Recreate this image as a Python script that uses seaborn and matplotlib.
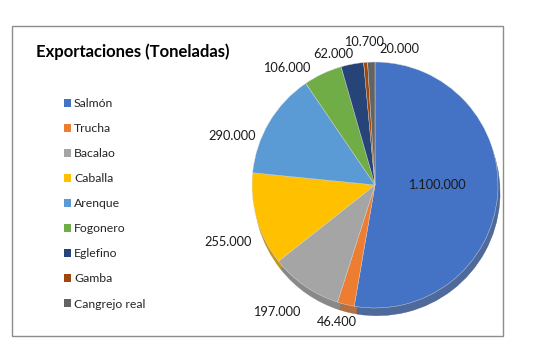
import matplotlib
matplotlib.use("Agg")
import matplotlib.pyplot as plt
from matplotlib.patches import Patch, Rectangle
import numpy as np
import seaborn as sns

# Datos
especies = ['Salmón', 'Trucha', 'Bacalao', 'Caballa', 'Arenque',
            'Fogonero', 'Eglefino', 'Gamba', 'Cangrejo real']
toneladas = [1100000, 46400, 197000, 255000, 290000, 106000, 62000, 10700, 20000]
etiquetas = ['1.100.000', '46.400', '197.000', '255.000', '290.000',
             '106.000', '62.000', '10.700', '20.000']
colores = ['#4472C4', '#ED7D31', '#A5A5A5', '#FFC000', '#5B9BD5',
           '#70AD47', '#264478', '#9E480E', '#636363']

# ajustes de posicion de etiquetas (radio relativo, giro en grados)
lab_r = [0.50, 1.155, 1.31, 1.28, 1.23, 1.19, 1.12, 1.17, 1.12]
lab_rot = [5, -2, -3, 5, 12, 12, 7, 0, -12]

sns.set_theme(style='white')
plt.rcParams['font.family'] = ['Lato', 'DejaVu Sans']

fig = plt.figure(figsize=(5.57, 3.57), dpi=100)
fig.patch.set_facecolor('white')

# marco del grafico
fig.patches.append(Rectangle((12 / 557, 1 - 336 / 357), 491 / 557, 310 / 357,
                             transform=fig.transFigure, fill=False,
                             edgecolor='#8c8c8c', linewidth=1.0))

r_px = 123
cx, cy = 375, 185
half = 1.4 * r_px
ax = fig.add_axes([(cx - half) / 557, (357 - cy - half) / 357,
                   2 * half / 557, 2 * half / 357])

wedges, _ = ax.pie(toneladas, colors=colores, startangle=90, counterclock=False,
                   radius=1.0, wedgeprops=dict(linewidth=0.3, edgecolor='#dddddd'),
                   shadow=dict(ox=0.012, oy=-0.045, shade=0.3, alpha=0.85))
ax.set_xlim(-1.4, 1.4)
ax.set_ylim(-1.4, 1.4)
ax.axis('off')

for w, txt, rr, rot in zip(wedges, etiquetas, lab_r, lab_rot):
    ang = np.deg2rad((w.theta1 + w.theta2) / 2 + rot)
    ax.text(rr * np.cos(ang), rr * np.sin(ang), txt, ha='center', va='center',
            fontsize=9.2, color='#1a1a1a')

fig.text(36 / 557, 1 - 52 / 357, 'Exportaciones (Toneladas)', ha='left',
         va='center', fontsize=12, fontweight='bold', color='#000000')

handles = [Patch(facecolor=c, edgecolor='none') for c in colores]
fig.legend(handles, especies, loc='upper left',
           bbox_to_anchor=(58 / 557, 1 - 92 / 357), frameon=False,
           fontsize=8.8, handlelength=0.6, handleheight=0.6,
           handletextpad=0.2, labelspacing=1.15, borderpad=0,
           labelcolor='#262626')

fig.savefig('out.png', dpi=100, facecolor='white')
